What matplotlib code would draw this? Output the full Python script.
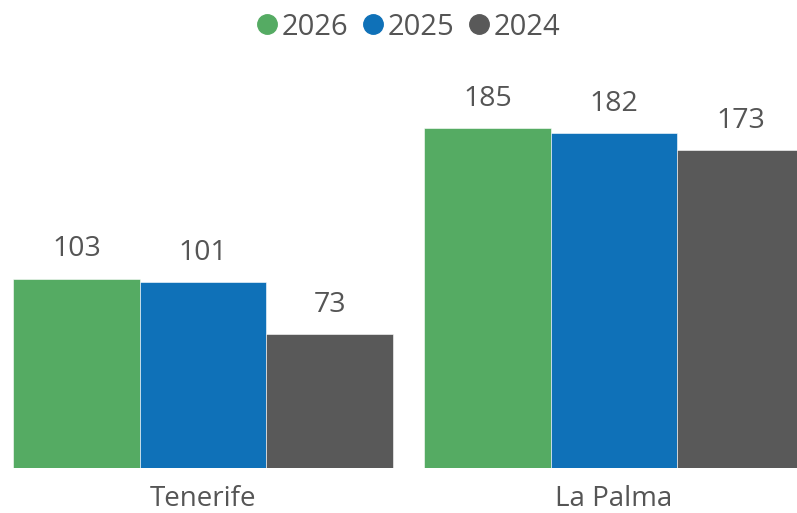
import numpy as np
import matplotlib.pyplot as plt
from matplotlib.lines import Line2D

plt.rcParams['font.family'] = ['Open Sans', 'DejaVu Sans']

categories = ['Tenerife', 'La Palma']
series = ['2026', '2025', '2024']
values = {
    '2026': [103, 185],
    '2025': [101, 182],
    '2024': [73, 173],
}
colors = {'2026': '#55AB63', '2025': '#0F71B8', '2024': '#595959'}
text_color = '#555555'

fig = plt.figure(figsize=(7.97, 5.13), dpi=100)
ax = fig.add_axes([0, 45 / 513, 1, 468 / 513])

x = np.arange(len(categories))
w = 0.3083
for i, s in enumerate(series):
    pos = x + (i - 1) * w
    bars = ax.bar(pos, values[s], width=w, color=colors[s], edgecolor='white', linewidth=0.4)
    for b, v in zip(bars, values[s]):
        ax.annotate(str(v), (b.get_x() + b.get_width() / 2, v), xytext=(0, 11),
                    textcoords='offset points', ha='center', va='bottom',
                    fontsize=20.5, color=text_color)

ax.set_xlim(-0.494, 1.445)
ax.set_ylim(0, 254.6)
ax.set_xticks(x)
ax.set_xticklabels(categories, fontsize=20, color=text_color)
ax.tick_params(axis='x', length=0, pad=12)
ax.set_yticks([])
for sp in ax.spines.values():
    sp.set_visible(False)

handles = [Line2D([], [], marker='o', linestyle='', markersize=14, color=colors[s]) for s in series]
fig.legend(handles, series, loc='center', bbox_to_anchor=(0.51, 0.947), ncol=3, frameon=False,
           fontsize=21, labelcolor=text_color, handletextpad=0.0, columnspacing=0.35,
           handlelength=1.0)

fig.savefig('out.png', dpi=100)
